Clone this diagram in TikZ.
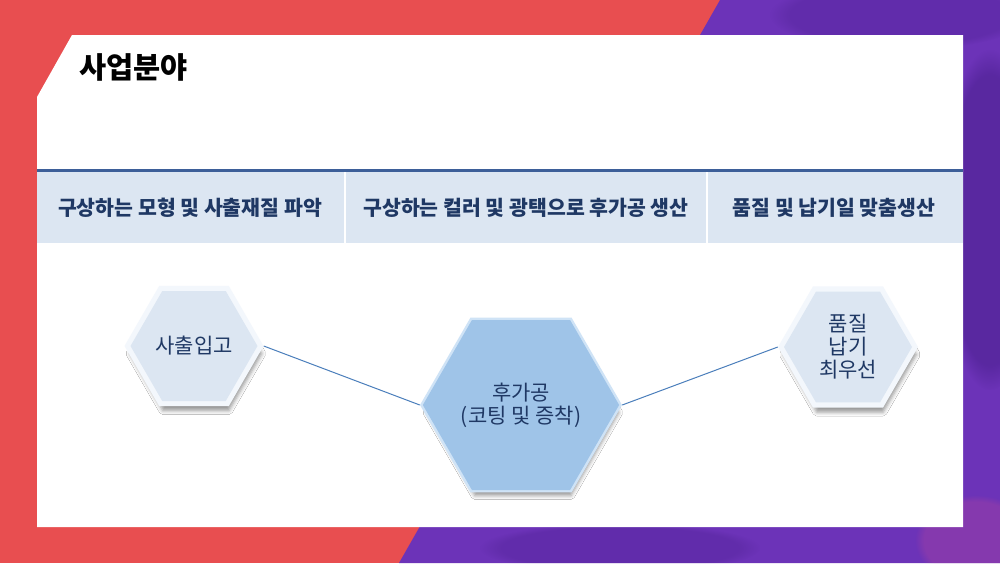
\documentclass[tikz,border=0pt]{standalone}
\usepackage{fontspec}
\setmainfont{Noto Sans CJK KR}
\usetikzlibrary{shapes.geometric,shadows.blur,fadings}
\definecolor{bgred}{HTML}{E84E50}
\definecolor{bgpurple}{HTML}{6C33B8}
\definecolor{purpledark}{HTML}{4A1F8E}
\definecolor{purplepink}{HTML}{9A3FA6}
\definecolor{bandfill}{HTML}{DCE6F2}
\definecolor{bandline}{HTML}{3D5F99}
\definecolor{navy}{HTML}{1F3864}
\definecolor{hexlight}{HTML}{DCE6F2}
\definecolor{hexlightbevel}{HTML}{F3F7FC}
\definecolor{hexmid}{HTML}{9FC4E8}
\definecolor{hexmidbevel}{HTML}{CFE3F6}
\definecolor{connblue}{HTML}{4A7EBB}
\tikzset{
  bandtext/.style={font=\bfseries\fontsize{20.5}{24}\selectfont, text=navy},
  hexout/.style={regular polygon, regular polygon sides=6, inner sep=0pt,
    blur shadow={shadow xshift=2pt, shadow yshift=-8pt, shadow scale=0.95, shadow blur radius=4pt, shadow opacity=40}},
  hexin/.style={regular polygon, regular polygon sides=6, inner sep=0pt, align=center,
    font=\fontsize{21}{23}\selectfont, text=navy},
  conn/.style={draw=connblue, line width=1pt},
  blob/.style={path fading=circle with fuzzy edge 15 percent}
}
\begin{document}
\begin{tikzpicture}[x=1pt,y=-1pt]
\useasboundingbox (0,0) rectangle (1000,563);
% background
\fill[bgred] (0,0) rectangle (1000,563);
\fill[bgpurple] (720,0) -- (1000,0) -- (1000,563) -- (399,563) -- cycle;
\begin{scope}
\clip (720,0) -- (1000,0) -- (1000,563) -- (399,563) -- cycle;
\fill[purpledark, blob, opacity=0.55] (990,220) ellipse (50pt and 170pt);
\fill[purpledark, blob, opacity=0.3] (900,15) ellipse (130pt and 35pt);
\fill[purplepink, blob, opacity=0.55] (975,540) ellipse (60pt and 45pt);
\fill[purpledark, blob, opacity=0.3] (620,548) ellipse (140pt and 25pt);
\end{scope}
% white panel
\fill[white] (72,35) -- (963,35) -- (963,527) -- (37,527) -- (37,97) -- cycle;
% title
\node[anchor=west, font=\bfseries\fontsize{29.5}{32}\selectfont, text=black, inner sep=0pt] (title) at (79,67) {사업분야};
% header band
\fill[bandfill] (37,172) rectangle (963,243);
\draw[bandline, line width=3pt] (37,170.5) -- (963,170.5);
\draw[white, line width=1.5pt] (345,172) -- (345,243);
\draw[white, line width=1.5pt] (707,172) -- (707,243);
\node[bandtext] (b1) at (190,208) {구상하는 모형 및 사출재질 파악};
\node[bandtext] (b2) at (526,208) {구상하는 컬러 및 광택으로 후가공 생산};
\node[bandtext] (b3) at (834,208) {품질 및 납기일 맞춤생산};
% hexagons
\node[hexout, fill=hexlightbevel, minimum size=139pt] (h1) at (194,346) {};
\node[hexin, fill=hexlight, minimum size=127pt] (h1in) at (194,346) {사출입고};
\node[hexout, fill=hexmidbevel, minimum size=202pt] (h2) at (521,405) {};
\node[hexin, fill=hexmid, minimum size=188pt] (h2in) at (521,405) {후가공\\(코팅 및 증착)};
\node[hexout, fill=hexlightbevel, minimum size=140pt] (h3) at (848,347) {};
\node[hexin, fill=hexlight, minimum size=128pt] (h3in) at (848,347) {품질\\납기\\최우선};
% connectors
\draw[conn] (h1.east) -- (h2.west);
\draw[conn] (h2.east) -- (h3.west);
\end{tikzpicture}
\end{document}
